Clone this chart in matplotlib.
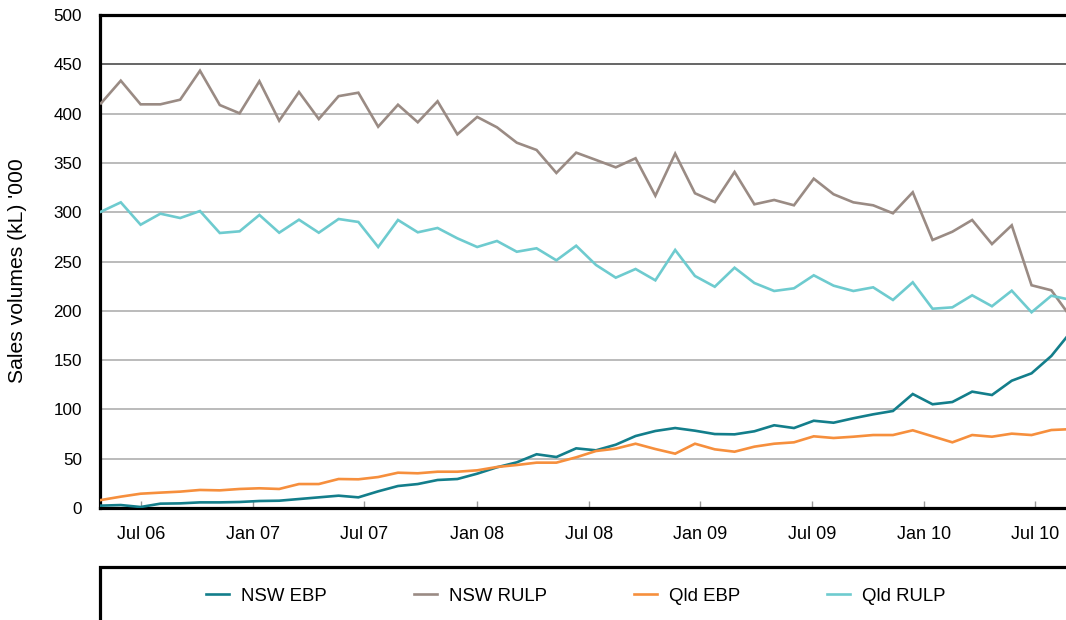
import matplotlib
matplotlib.use("Agg")
import matplotlib.pyplot as plt
from matplotlib.patches import Rectangle

plt.rcParams['font.family'] = ['Liberation Sans', 'DejaVu Sans']

# ---- data (monthly observations, index 0 = first observation) ----
nsw_ebp = [2.4, 3.0, 1.0, 4.4, 4.7, 5.7, 5.7, 6.1, 7.1, 7.4,
           9.1, 10.8, 12.5, 10.8, 16.9, 22.3, 24.3, 28.4, 29.4, 34.8,
           41.3, 46.3, 54.5, 51.7, 60.5, 58.5, 64.2, 73.0, 78.1, 81.1,
           78.4, 75.0, 74.7, 77.8, 83.9, 81.1, 88.5, 86.5, 91.0, 95.0,
           98.4, 115.6, 105.2, 107.5, 118.0, 114.6, 129.1, 136.6, 154.2, 179.0]
nsw_rulp = [410.4, 433.4, 409.4, 409.4, 414.1, 443.5, 408.7, 400.3, 432.8, 392.8,
            421.9, 394.5, 417.7, 421.2, 386.7, 409.0, 391.2, 412.5, 379.0, 396.6,
            386.1, 370.5, 363.1, 339.8, 360.4, 353.0, 345.5, 354.7, 316.7, 359.4,
            319.2, 310.3, 340.8, 308.0, 312.4, 307.0, 334.0, 318.2, 310.0, 307.0,
            298.9, 320.2, 271.8, 280.2, 292.1, 267.7, 286.7, 225.9, 220.8, 193.0]
qld_ebp = [8.1, 11.5, 14.5, 15.6, 16.6, 18.3, 17.9, 19.3, 20.0, 19.3,
           24.3, 24.3, 29.4, 29.1, 31.4, 35.8, 35.2, 36.8, 36.8, 38.2,
           41.6, 43.6, 46.0, 46.0, 51.4, 57.8, 60.2, 65.2, 59.8, 55.1,
           65.2, 59.5, 57.1, 62.2, 65.2, 66.6, 72.7, 71.0, 72.3, 74.0,
           74.0, 78.8, 72.7, 66.6, 74.0, 72.3, 75.4, 74.0, 79.1, 80.0]
qld_rulp = [300.5, 310.0, 287.3, 298.5, 294.1, 301.2, 278.9, 280.6, 297.2, 279.2,
            292.4, 279.2, 293.1, 290.1, 264.7, 292.1, 279.6, 284.0, 273.5, 264.7,
            270.8, 259.9, 263.4, 251.2, 266.0, 246.5, 233.6, 242.4, 230.9, 261.7,
            235.3, 224.4, 243.7, 228.2, 220.1, 222.8, 236.0, 225.5, 220.1, 223.8,
            211.0, 228.9, 202.1, 203.5, 215.7, 204.6, 220.4, 198.5, 215.3, 211.0]

series_names = ['NSW EBP', 'NSW RULP', 'Qld EBP', 'Qld RULP']
tick_labels = ['Jul 06', 'Jan 07', 'Jul 07', 'Jan 08', 'Jul 08',
               'Jan 09', 'Jul 09', 'Jan 10', 'Jul 10']
tick_positions = [2.02, 7.68, 13.28, 18.99, 24.65, 30.25, 35.9, 41.57, 47.17]
y_ticks = [0, 50, 100, 150, 200, 250, 300, 350, 400, 450, 500]

colors = ['#137e8b', '#9a8b84', '#f68f3d', '#6ecbcf']

W, H = 1066, 620
fig = plt.figure(figsize=(W / 100, H / 100), dpi=100)
ax = fig.add_axes([100 / W, 1 - 508 / H, (W - 100) / W, (508 - 15) / H])

x = list(range(len(nsw_ebp)))
for vals, name, c in zip([nsw_ebp, nsw_rulp, qld_ebp, qld_rulp], series_names, colors):
    ax.plot(x, vals, color=c, lw=1.9, label=name, solid_joinstyle='miter', zorder=3)

ax.set_xlim(-0.05, 48.74)
ax.set_ylim(0, 500)
ax.set_yticks(y_ticks)
for v in y_ticks[1:-1]:
    ax.axhline(v, color='#3c3c3c' if v == 450 else '#a8a8a8', lw=1.1, zorder=1)

ax.set_xticks(tick_positions)
ax.set_xticklabels(tick_labels)
ax.tick_params(axis='x', direction='in', length=5, width=1, color='#999999',
               labelsize=13, pad=13)
ax.tick_params(axis='y', length=0, labelsize=12.3, pad=13)

for s in ['left', 'bottom', 'top']:
    ax.spines[s].set_linewidth(2.3)
    ax.spines[s].set_color('black')
ax.spines['right'].set_visible(False)

fig.text(18 / W, 1 - 271 / H, "Sales volumes (kL) '000", rotation=90,
         ha='center', va='center', fontsize=15.2)

# legend box
fig.patches.append(Rectangle((100 / W, -0.05), 1.0, (1 - 567 / H) + 0.05,
                             transform=fig.transFigure, fill=False,
                             edgecolor='black', lw=2.3, zorder=0))
handles, labels = ax.get_legend_handles_labels()
fig.legend(handles, labels, ncol=4, loc='center left',
           bbox_to_anchor=(206 / W, 1 - 596 / H), frameon=False,
           fontsize=13.4, handlelength=1.25, handletextpad=0.65,
           columnspacing=4.65, borderpad=0, borderaxespad=0)

fig.savefig('out.png', dpi=100)
